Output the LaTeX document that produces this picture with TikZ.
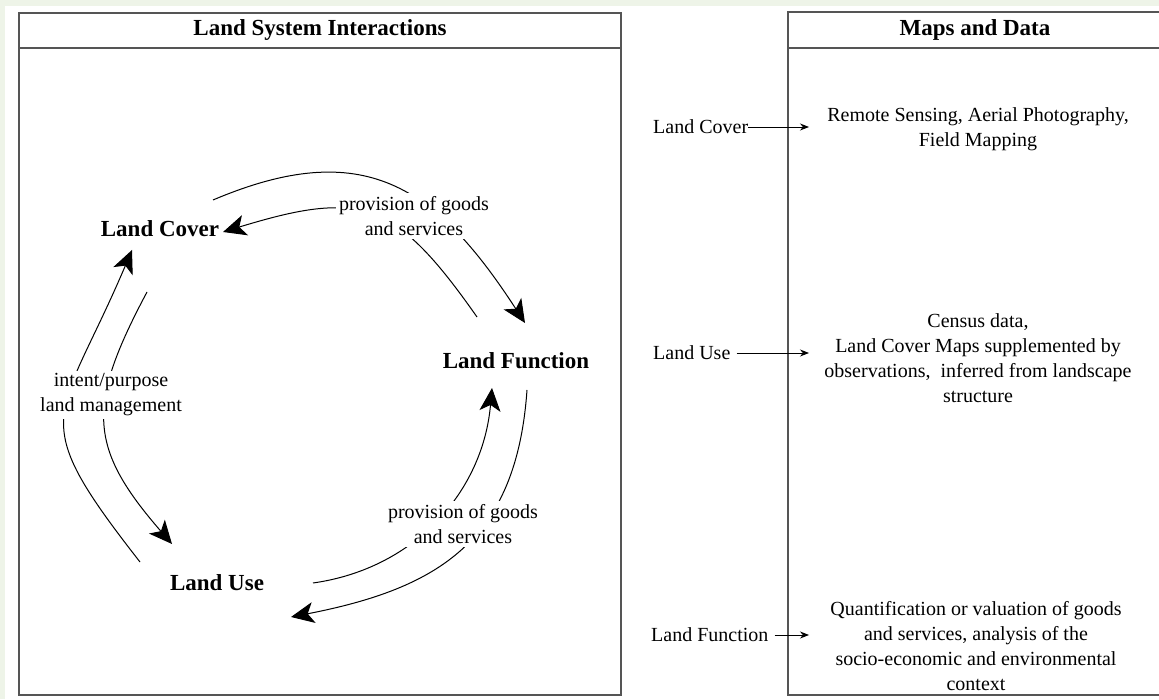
\documentclass[tikz,border=0pt]{standalone}
\usepackage{fontspec}
\setmainfont{Liberation Serif}
\usetikzlibrary{arrows.meta}
\definecolor{pagegreen}{RGB}{238,244,232}
\definecolor{framegray}{RGB}{85,85,85}
\begin{document}
\begin{tikzpicture}[x=1pt,y=1pt,
  txt/.style={font=\fontsize{20}{25}\selectfont, inner sep=0pt, align=center},
  head/.style={font=\fontsize{23}{27}\selectfont\bfseries, inner sep=0pt},
  item/.style={font=\fontsize{23}{27}\selectfont\bfseries, inner sep=0pt},
  tag/.style={txt, fill=white, inner sep=3pt},
  cyc/.style={line width=1pt, -{Stealth[length=23pt,width=21pt,inset=6pt]}},
  pointer/.style={line width=0.9pt, -{Stealth[length=9pt,width=7pt]}},
  panel/.style={draw=framegray, line width=1.4pt}]
\useasboundingbox (0,0) rectangle (1159,699);
\fill[pagegreen] (0,0) rectangle (1159,699);
\fill[white] (5,0) rectangle (1159,693);

% panels
\draw[panel] (19,4) rectangle (621,686);
\draw[panel] (19,651) -- (621,651);
\draw[panel] (788,4) rectangle (1180,687);
\draw[panel] (788,651) -- (1180,651);
\node[head] (h1) at (320,669) {Land System Interactions};
\node[head] (h2) at (975,669) {Maps and Data};

% cycle of land system components
\node[item] (lc) at (160,470) {Land Cover};
\node[item] (lf) at (516,338) {Land Function};
\node[item] (lu) at (217,116) {Land Use};

\coordinate (a1) at (213,499); \coordinate (a2) at (525,376);
\coordinate (b1) at (477,382); \coordinate (b2) at (223,467);
\coordinate (c1) at (140,137); \coordinate (c2) at (132,449);
\coordinate (d1) at (147,407); \coordinate (d2) at (172,155);
\coordinate (e1) at (313,116); \coordinate (e2) at (492,311);
\coordinate (f1) at (527,309); \coordinate (f2) at (291,82);

\draw[cyc] (a1) to[out=23,in=123,looseness=1.25] (a2);
\draw[cyc] (b1) to[out=125,in=17,looseness=1.37] (b2);
\draw[cyc] (c1) to[out=128,in=-113,looseness=1.55] (c2);
\draw[cyc] (d1) to[out=242,in=131,looseness=1.3] (d2);
\draw[cyc] (e1) to[out=8,in=-95,looseness=1] (e2);
\draw[cyc] (f1) to[out=-94,in=11,looseness=1.18] (f2);

\node[tag] (t1) at (414,483) {provision of goods\\and services};
\node[tag] (t2) at (111,304) {intent/purpose\\land management};
\node[tag] (t3) at (463,175) {provision of goods\\and services};

% data sources
\node[txt, anchor=west] (rc) at (653,572) {Land Cover};
\node[txt, anchor=west] (ru) at (653,346) {Land Use};
\node[txt, anchor=west] (rf) at (651,64) {Land Function};
\coordinate (pc) at (809,572);
\coordinate (pu) at (809,346);
\coordinate (pf) at (809,64);
\draw[pointer] (rc.east) -- (pc);
\draw[pointer] ([xshift=6pt]ru.east) -- (pu);
\draw[pointer] ([xshift=6pt]rf.east) -- (pf);

\node[txt] (m1) at (978,570) {Remote Sensing, Aerial Photography,\\Field Mapping};
\node[txt] (m2) at (978,341) {Census data,\\Land Cover Maps supplemented by\\observations,~ inferred from landscape\\structure};
\node[txt] (m3) at (976,53) {Quantification or valuation of goods\\and services, analysis of the\\socio-economic and environmental\\context};
\end{tikzpicture}
\end{document}
